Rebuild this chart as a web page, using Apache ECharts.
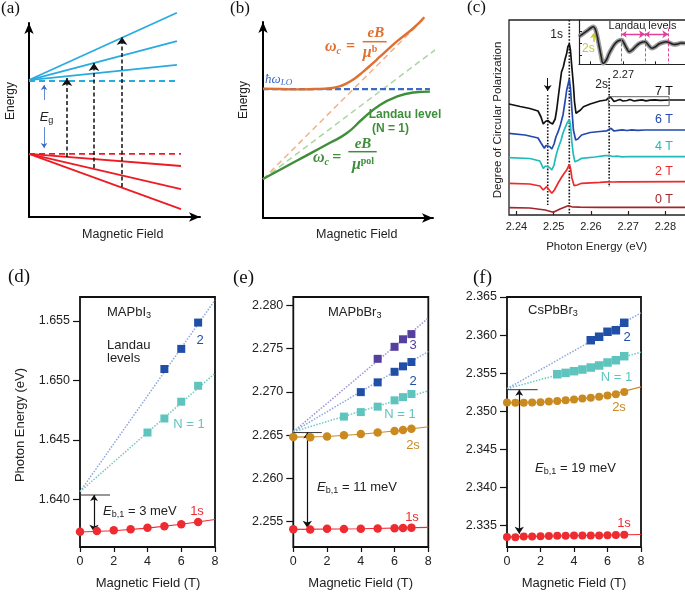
<!DOCTYPE html>
<html><head><meta charset="utf-8">
<script src="https://cdn.jsdelivr.net/npm/echarts@6/dist/echarts.min.js"></script>
<style>html,body{margin:0;padding:0;background:#fff}#c{width:685px;height:592px}</style>
</head><body><div id="c"></div>
<script>
// ---------- Panel (a): schematic band diagram (arbitrary units) ----------
const aBlueBands = [[[0,7.06],[8.65,10.53]],[[0,7.06],[8.65,9.07]],[[0,7.06],[8.65,7.84]]];
const aBlueEdge = [[0,7.01],[8.77,7.01]];
const aRedBands = [[[0,3.25],[8.89,2.63]],[[0,3.25],[8.89,1.44]],[[0,3.25],[8.89,0.41]]];
const aRedEdge = [[0,3.25],[8.89,3.25]];
const aTransitions = [[[2.22,3.09],[2.22,7.16]],[[3.8,2.53],[3.8,7.94]],[[5.44,1.55],[5.44,9.28]]];
const aGapArrows = [[[0.88,6.03],[0.88,6.8]],[[0.88,4.64],[0.88,3.56]]];

// ---------- Panel (b): polaron schematic (arbitrary units) ----------
const bUpper = [[0,6.6],[1,6.58],[2,6.56],[3,6.58],[3.94,6.62],[4.5,6.72],[4.92,6.87],[5.4,7.12],[5.9,7.47],[6.4,7.85],[6.88,8.23],[7.86,9.0],[8.84,9.68],[9.49,10.24]];
const bLower = [[0,1.99],[1.98,2.92],[3.94,3.84],[4.92,4.32],[5.9,5.09],[6.88,5.77],[7.86,6.19],[8.84,6.40],[9.82,6.45]];
const bLO = [[0,6.58],[9.82,6.58]];
const bBare = [[0,1.98],[9.55,10.24]];
const bPol = [[0,1.98],[10.25,8.66]];

// ---------- Panel (c): DCP spectra (eV, a.u.) ----------
const c7T = [[2.2380,11.8],[2.2410,11.55],[2.2436,11.35],[2.2458,11.1],[2.2466,10.5],[2.2472,9.8],[2.2478,10.05],[2.2484,10.15],[2.2490,9.95],[2.2497,9.8],[2.2504,10.3],[2.2508,11.2],[2.2513,12.7],[2.2517,13.87],[2.2521,15.0],[2.2526,15.53],[2.2530,16.2],[2.2535,16.87],[2.2538,17.5],[2.2542,17.8],[2.2545,17.2],[2.2549,15.4],[2.2553,13.7],[2.2556,12.0],[2.2560,10.87],[2.2565,10.8],[2.2572,11.2],[2.2580,11.53],[2.2598,11.8],[2.2624,12.1],[2.2641,12.2],[2.2646,12.35],[2.2651,12.53],[2.2657,12.3],[2.2662,12.05],[2.2670,12.15],[2.2678,12.25],[2.2686,12.1],[2.2697,12.15],[2.2705,12.25],[2.2716,12.1],[2.2726,12.17],[2.2737,12.22],[2.2748,12.12],[2.2759,12.18],[2.2772,12.22],[2.2786,12.17],[2.2812,12.2],[2.2856,12.2]];
const c6T = [[2.2380,8.87],[2.2423,8.7],[2.2458,8.4],[2.2466,7.9],[2.2475,7.37],[2.2479,7.65],[2.2484,7.77],[2.2489,7.55],[2.2495,7.3],[2.2501,7.8],[2.2506,8.5],[2.2512,9.03],[2.2518,9.7],[2.2525,10.7],[2.2530,11.9],[2.2535,13.2],[2.2542,14.3],[2.2545,13.4],[2.2549,11.2],[2.2553,9.2],[2.2559,8.2],[2.2565,8.3],[2.2575,8.7],[2.2598,8.95],[2.2624,9.05],[2.2643,9.12],[2.2654,9.37],[2.2662,9.1],[2.2673,9.17],[2.2684,9.22],[2.2697,9.15],[2.2710,9.22],[2.2726,9.17],[2.2745,9.2],[2.2772,9.2],[2.2856,9.2]];
const c4T = [[2.2380,6.43],[2.2436,6.35],[2.2463,6.1],[2.2472,5.37],[2.2478,5.6],[2.2483,5.7],[2.2489,5.45],[2.2495,5.2],[2.2501,5.7],[2.2506,6.6],[2.2512,7.37],[2.2520,8.2],[2.2525,8.9],[2.2530,9.37],[2.2536,9.9],[2.2542,10.25],[2.2545,9.7],[2.2549,7.9],[2.2553,6.7],[2.2557,6.03],[2.2565,6.15],[2.2575,6.37],[2.2611,6.5],[2.2638,6.63],[2.2649,6.65],[2.2654,6.77],[2.2659,6.55],[2.2670,6.58],[2.2684,6.52],[2.2705,6.55],[2.2732,6.53],[2.2856,6.53]];
const c2T = [[2.2380,3.87],[2.2436,3.8],[2.2463,3.6],[2.2472,3.2],[2.2477,3.4],[2.2481,3.53],[2.2487,3.25],[2.2495,2.87],[2.2502,3.2],[2.2512,3.9],[2.2522,4.53],[2.2528,4.85],[2.2535,5.2],[2.2542,5.77],[2.2545,5.4],[2.2549,4.4],[2.2553,3.87],[2.2555,3.63],[2.2563,3.7],[2.2575,3.87],[2.2624,3.97],[2.2646,4.02],[2.2651,4.1],[2.2657,4.0],[2.2678,4.02],[2.2856,4.03]];
const c0T = [[2.2380,1.43],[2.2436,1.4],[2.2477,1.2],[2.2499,0.97],[2.2517,1.3],[2.2539,1.63],[2.2549,1.52],[2.2570,1.48],[2.2624,1.47],[2.2856,1.47]];
const cGuide1 = [[2.2484,12.7],[2.2484,1.7]];
const cGuide2 = [[2.2542,20.2],[2.2542,0.7]];
const cGuide3 = [[2.2649,14.4],[2.2649,3.5]];
const cArrow = [[[2.2484,14.4],[2.2484,13.1]]];
const cZoomBox = [[2.2647,12.53],[2.2810,12.53],[2.2810,11.63],[2.2647,11.63],[2.2647,12.53]];
const cTicks = [2.24,2.25,2.26,2.27,2.28];
// inset (7 T, zoomed)
const cInset = [[2.2632,6.23],[2.2640,7.07],[2.2646,7.74],[2.2650,8.19],[2.2654,8.49],[2.2657,7.97],[2.2660,6.39],[2.2663,4.13],[2.2666,1.87],[2.2669,0.23],[2.2674,0.97],[2.2678,2.33],[2.2683,3.68],[2.2687,4.58],[2.2692,5.26],[2.2698,5.49],[2.2701,4.81],[2.2706,3.45],[2.2709,2.84],[2.2714,3.23],[2.2720,4.13],[2.2726,4.81],[2.2734,5.10],[2.2738,4.47],[2.2744,3.61],[2.2749,3.91],[2.2755,4.58],[2.2761,4.92],[2.2767,5.10],[2.2772,4.81],[2.2778,4.47],[2.2784,4.58],[2.2789,4.81],[2.2795,4.74]];
const cLandau = [2.26977,2.27335,2.27694];
const cInsetXTicks = [2.265,2.27,2.275];
const cInsetYTicks = [2.1,4.75,7.4];

// ---------- Panel (d): MAPbI3 ----------
const dField = [0,1,2,3,4,5,6,7];
const d1s = [1.63729,1.63735,1.63741,1.63750,1.63762,1.63775,1.63792,1.63811];
const dN1Field = [4,5,6,7];
const dN1 = [1.64563,1.64681,1.64822,1.64956];
const dN2Field = [5,6,7];
const dN2 = [1.65097,1.65266,1.65487];
const d1sFit = [[0,1.63727],[2,1.63738],[4,1.63760],[6,1.63792],[8,1.63832]];
const dN1Fit = [[0,1.64066],[8,1.65061]];
const dN2Fit = [[0,1.64066],[8,1.65676]];
const dLimit = [[0,1.64038],[1.78,1.64038]];
const dGap = [[[0.83,1.64038],[0.83,1.6373]]];
const dTicks = [1.640,1.645,1.650,1.655];

// ---------- Panel (e): MAPbBr3 ----------
const eField = [0,1,2,3,4,5,6,6.5,7];
const e1s = [2.25412,2.25410,2.25418,2.25416,2.25418,2.25421,2.25424,2.25427,2.25431];
const e2s = [2.26480,2.26475,2.26484,2.26498,2.26513,2.26530,2.26549,2.26560,2.26575];
const eN1Field = [3,4,5,6,6.5,7];
const eN1 = [2.26715,2.26767,2.26830,2.26903,2.26940,2.26976];
const eN2Field = [4,5,6,6.5,7];
const eN2 = [2.26998,2.27111,2.27233,2.27296,2.27346];
const eN3Field = [5,6,6.5,7];
const eN3 = [2.27383,2.27522,2.27609,2.27669];
const e1sFit = [[0,2.25411],[4,2.25418],[8,2.25434]];
const e2sFit = [[0,2.26478],[2,2.26484],[4,2.26510],[6,2.26548],[8,2.26598]];
const eN1Fit = [[0,2.2654],[8,2.27013]];
const eN2Fit = [[0,2.2654],[8,2.27468]];
const eN3Fit = [[0,2.2654],[8,2.27854]];
const eLimit = [[0,2.2653],[1.69,2.2653]];
const eGap = [[[0.83,2.2653],[0.83,2.2543]]];
const eTicks = [2.255,2.260,2.265,2.270,2.275,2.280];

// ---------- Panel (f): CsPbBr3 ----------
const fField = [0,0.5,1,1.5,2,2.5,3,3.5,4,4.5,5,5.5,6,6.5,7];
const f1s = [2.33348,2.33344,2.33353,2.33353,2.33357,2.33360,2.33364,2.33364,2.33366,2.33366,2.33367,2.33367,2.33370,2.33374,2.33377];
const f2s = [2.35114,2.35109,2.35109,2.35114,2.35118,2.35127,2.35135,2.35144,2.35153,2.35167,2.35175,2.35188,2.35206,2.35223,2.35253];
const fN1Field = [3,3.5,4,4.5,5,5.5,6,6.5,7];
const fN1 = [2.35485,2.35503,2.35525,2.35547,2.35573,2.35600,2.35639,2.35669,2.35722];
const fN2Field = [5,5.5,6,6.5,7];
const fN2 = [2.35932,2.35978,2.36043,2.36063,2.36161];
const f1sFit = [[0,2.33348],[8,2.3338]];
const f2sFit = [[0,2.35112],[2,2.35118],[4,2.35152],[6,2.35205],[8,2.35319]];
const fN1Fit = [[0,2.35295],[8,2.35775]];
const fN2Fit = [[0,2.35295],[8,2.36292]];
const fLimit = [[0,2.35282],[1.83,2.35282]];
const fGap = [[[0.73,2.35282],[0.73,2.3339]]];
const fTicks = [2.335,2.340,2.345,2.350,2.355,2.360,2.365];

// ---------- colours ----------
const C = {blue:'#29abe2', red:'#ed1c24', orange:'#e0702f', green:'#3f8f3a', lo:'#3b6cc4',
  k:'#111', b6:'#2349b0', teal:'#1fbcbc', r2:'#ee2a2a', r0:'#a4262c', mag:'#e0409a', yel:'#c8c830',
  dot:'#ef2b32', gold:'#c98a20', sq1:'#5ec4bd', sq2:'#1f4fa6', sq3:'#56409e',
  l1:'#6fcac4', l2:'#8fa6e0', l3:'#9d94d6'};
const SANS = 'Liberation Sans', SERIF = 'Liberation Serif';

const series = [];
function line(gi, data, color, width, type, extra) {
  series.push(Object.assign({type:'line', xAxisIndex:gi, yAxisIndex:gi, data, symbol:'none', clip:false, silent:true,
    animation:false, lineStyle:{color, width, type:type||'solid'}, z:2}, extra||{}));
}
function segs(gi, list, color, width, type, sym, size, extra) {
  series.push(Object.assign({type:'lines', coordinateSystem:'cartesian2d', xAxisIndex:gi, yAxisIndex:gi,
    data:list.map(s=>({coords:s})), symbol:sym, symbolSize:size,
    lineStyle:{color, width, type:type||'solid', opacity:1, curveness:0}, silent:true, animation:false, z:3}, extra||{}));
}
function pts(gi, xs, ys, symbol, size, color) {
  series.push({type:'scatter', xAxisIndex:gi, yAxisIndex:gi, data:xs.map((x,i)=>[x,ys[i]]), symbol, symbolSize:size,
    itemStyle:{color, opacity:1}, clip:false, silent:true, animation:false, z:5});
}

// (a)
aBlueBands.forEach(s=>line(0,s,C.blue,1.8));
line(0,aBlueEdge,C.blue,1.8,[6,4]);
aRedBands.forEach(s=>line(0,s,C.red,1.8));
line(0,aRedEdge,C.red,1.8,[6,4]);
segs(0,aTransitions,C.k,1.5,[4,2.5],['none','arrow'],[7,8]);
segs(0,aGapArrows,C.lo,0.8,'solid',['none','arrow'],[4,5]);
// (b)
line(1,bBare,'#f2b08e',1.5,[6,4]);
line(1,bPol,'#a9d6a0',1.5,[6,4]);
line(1,bLO,C.lo,2.2,[6,3]);
line(1,bUpper,C.orange,2.4,'solid',{smooth:true});
line(1,bLower,C.green,2.4,'solid',{smooth:true});
// (c)
line(2,cGuide1,C.k,1.6,'dotted');
line(2,cGuide2,C.k,1.6,'dotted');
line(2,cGuide3,C.k,1.6,'dotted');
segs(2,cArrow,C.k,1,'solid',['none','arrow'],[6,6]);
line(2,c0T,C.r0,1.7);
line(2,c2T,C.r2,1.7);
line(2,c4T,C.teal,1.7);
line(2,c6T,C.b6,1.7);
line(2,c7T,C.k,1.7);
line(2,cZoomBox,'#666',1);
// inset
line(3,cInset,'#9a9a9a',4.5,'solid',{smooth:0.3});
line(3,cInset,'#222',1.6,'solid',{smooth:0.3});
segs(3,cLandau.map(x=>[[x,8.1],[x,0]]),C.mag,1,[3,2],'none',0);
segs(3,[[[cLandau[0],6.77],[cLandau[1],6.77]],[[cLandau[1],6.77],[cLandau[2],6.77]]],C.mag,1.3,'solid',['arrow','arrow'],[5,6]);
segs(3,[[[2.2654,5.1],[2.2654,7.0]]],C.yel,1.5,'solid',['none','arrow'],[5,5]);
// (d)
line(4,dN2Fit,C.l2,1.5,'dotted');
line(4,dN1Fit,C.l1,1.5,'dotted');
line(4,d1sFit,C.dot,1.1);
line(4,dLimit,'#333',1);
segs(4,dGap,C.k,1.2,'solid',['arrow','arrow'],[6,7]);
pts(4,dField,d1s,'circle',8.5,C.dot);
pts(4,dN1Field,dN1,'rect',8,C.sq1);
pts(4,dN2Field,dN2,'rect',8,C.sq2);
// (e)
line(5,eN3Fit,C.l3,1.5,'dotted');
line(5,eN2Fit,C.l2,1.5,'dotted');
line(5,eN1Fit,C.l1,1.5,'dotted');
line(5,e1sFit,C.dot,1.1);
line(5,e2sFit,C.gold,1.1);
line(5,eLimit,'#333',1);
segs(5,eGap,C.k,1.2,'solid',['arrow','arrow'],[6,7]);
pts(5,eField,e1s,'circle',8.5,C.dot);
pts(5,eField,e2s,'circle',8.5,C.gold);
pts(5,eN1Field,eN1,'rect',8,C.sq1);
pts(5,eN2Field,eN2,'rect',8,C.sq2);
pts(5,eN3Field,eN3,'rect',8,C.sq3);
// (f)
line(6,fN2Fit,C.l2,1.5,'dotted');
line(6,fN1Fit,C.l1,1.5,'dotted');
line(6,f1sFit,C.dot,1.1);
line(6,f2sFit,C.gold,1.1);
line(6,fLimit,'#333',1);
segs(6,fGap,C.k,1.2,'solid',['arrow','arrow'],[6,7]);
pts(6,fField,f1s,'circle',8,C.dot);
pts(6,fField,f2s,'circle',8,C.gold);
pts(6,fN1Field,fN1,'rect',8.5,C.sq1);
pts(6,fN2Field,fN2,'rect',8.5,C.sq2);

// ---------- grids & axes ----------
const grids = [
  {left:29, top:23, width:171, height:194},
  {left:263, top:22, width:170, height:196},
  {left:509, top:20, width:177, height:195, show:true, borderColor:'#222', borderWidth:1.3},
  {left:579, top:20, width:107, height:44.3},
  {left:80, top:297, width:135, height:250, show:true, borderColor:'#111', borderWidth:1.8},
  {left:293.3, top:297, width:135, height:250, show:true, borderColor:'#111', borderWidth:1.8},
  {left:507, top:297, width:134, height:250, show:true, borderColor:'#111', borderWidth:1.8}
].map(g=>Object.assign({outerBoundsMode:'none', containLabel:false, backgroundColor:'transparent'}, g));

const off = {show:false};
function arrowAxis(gi){ return {type:'value', gridIndex:gi, min:0, max:10, splitLine:off, axisTick:off, axisLabel:off,
  axisLine:{show:true, onZero:false, symbol:['none','arrow'], symbolSize:[7,11], lineStyle:{color:'#000', width:2}}}; }
const lab = {fontFamily:SANS, fontSize:12.5, color:'#222'};
function fieldAxis(gi){ return {type:'value', gridIndex:gi, min:0, max:8, interval:2, splitLine:off,
  axisLine:{show:false}, axisTick:{show:true, inside:false, length:5, lineStyle:{color:'#111', width:1.2}},
  axisLabel:Object.assign({margin:8}, lab)}; }
function energyAxis(gi, min, max, ticks){ return {type:'value', gridIndex:gi, min, max, splitLine:off, axisLine:{show:false},
  axisTick:{show:true, inside:false, length:7, customValues:ticks, lineStyle:{color:'#111', width:1.2}},
  axisLabel:Object.assign({margin:10, customValues:ticks, formatter:v=>v.toFixed(3)}, lab)}; }

const xAxis = [
  arrowAxis(0), arrowAxis(1),
  {type:'value', gridIndex:2, min:2.238, max:2.28554, splitLine:off, axisLine:{show:false},
    axisTick:{show:true, inside:true, length:4, customValues:cTicks, lineStyle:{color:'#222', width:1.2}},
    axisLabel:{customValues:cTicks, formatter:v=>v.toFixed(2), margin:6, fontFamily:SANS, fontSize:11, color:'#222'}},
  {type:'value', gridIndex:3, min:2.2632, max:2.27966, splitLine:off, axisLabel:off,
    axisLine:{show:true, onZero:false, lineStyle:{color:'#222', width:1.2}},
    axisTick:{show:true, inside:true, length:3, customValues:cInsetXTicks, lineStyle:{color:'#222'}}},
  fieldAxis(4), fieldAxis(5), fieldAxis(6)
];
const yAxis = [
  arrowAxis(0), arrowAxis(1),
  {type:'value', gridIndex:2, min:0.7, max:20.2, splitLine:off, axisLine:off, axisTick:off, axisLabel:off},
  {type:'value', gridIndex:3, min:0, max:10, splitLine:off, axisLabel:off,
    axisLine:{show:true, onZero:false, lineStyle:{color:'#222', width:1.2}},
    axisTick:{show:true, inside:true, length:3, customValues:cInsetYTicks, lineStyle:{color:'#222'}}},
  energyAxis(4, 1.63601, 1.65702, dTicks),
  energyAxis(5, 2.25207, 2.28098, eTicks),
  energyAxis(6, 2.33215, 2.365, fTicks)
];

// ---------- text annotations ----------
function txt(x, y, text, o) {
  o = o || {};
  return {type:'text', x, y, rotation:o.rot||0, z:100, silent:true, style:{text, fill:o.color||'#222',
    fontSize:o.size||13, fontFamily:o.family||SANS, fontWeight:o.weight||'normal', fontStyle:o.style||'normal',
    align:o.align||'center', verticalAlign:'middle', rich:o.rich}};
}
function subRich(color, size, fam, italicMain) {
  return {
    i:{fontSize:size, fontFamily:fam||SANS, fontStyle:'italic', fill:color, lineHeight:size+3},
    n:{fontSize:size, fontFamily:fam||SANS, fill:color, lineHeight:size+3},
    s:{fontSize:size*0.7, fontFamily:fam||SANS, fill:color, verticalAlign:'bottom', lineHeight:7, fontStyle:italicMain?'italic':'normal'}
  };
}
function formulaRich(color) {
  return {
    w:{fontSize:16, fontFamily:SERIF, fontWeight:'bold', fontStyle:'italic', fill:color, lineHeight:18},
    s:{fontSize:10, fontFamily:SERIF, fontWeight:'bold', fontStyle:'italic', fill:color, verticalAlign:'bottom', lineHeight:8},
    p:{fontSize:10, fontFamily:SERIF, fontWeight:'bold', fill:color, verticalAlign:'top', lineHeight:8}
  };
}
const R = Math.PI/2;
const graphic = [
  // (a)
  txt(1, 9, '(a)', {family:SERIF, size:17, align:'left', color:'#111'}),
  txt(11, 101, 'Energy', {rot:R, size:12}),
  txt(122.7, 234.5, 'Magnetic Field', {size:12.5}),
  txt(46.5, 117, '{i|E}{s|g}', {rich:subRich('#222',13)}),
  // (b)
  txt(230, 9, '(b)', {family:SERIF, size:17, align:'left', color:'#111'}),
  txt(244, 100, 'Energy', {rot:R, size:12}),
  txt(356.7, 235, 'Magnetic Field', {size:12.5}),
  txt(325, 47, '{w|ω}{s|c}', {align:'left', rich:formulaRich(C.orange)}),
  txt(350.5, 47, '=', {family:SERIF, size:16, weight:'bold', color:C.orange}),
  txt(375.8, 33.5, 'eB', {family:SERIF, size:15, weight:'bold', style:'italic', color:C.orange}),
  {type:'line', z:100, silent:true, shape:{x1:362.7, y1:41.7, x2:386.7, y2:41.7}, style:{stroke:C.orange, lineWidth:1.5}},
  txt(370, 53, '{w|μ}{p|b}', {rich:formulaRich(C.orange)}),
  txt(265, 80, '{w|ħω}{s|LO}', {align:'left', rich:{
    w:{fontSize:13, fontFamily:SERIF, fontStyle:'italic', fill:C.lo, lineHeight:15},
    s:{fontSize:9, fontFamily:SERIF, fontStyle:'italic', fill:C.lo, verticalAlign:'bottom', lineHeight:6}}}),
  txt(405, 115, 'Landau level', {size:12, weight:'bold', color:C.green}),
  txt(390.5, 128.5, '(N = 1)', {size:12, weight:'bold', color:C.green}),
  txt(313, 158.3, '{w|ω}{s|c}', {align:'left', rich:formulaRich(C.green)}),
  txt(336.7, 158.3, '=', {family:SERIF, size:16, weight:'bold', color:C.green}),
  txt(363, 144.5, 'eB', {family:SERIF, size:15, weight:'bold', style:'italic', color:C.green}),
  {type:'line', z:100, silent:true, shape:{x1:348.3, y1:151.7, x2:376.7, y2:151.7}, style:{stroke:C.green, lineWidth:1.5}},
  txt(363, 165, '{w|μ}{p|pol}', {rich:formulaRich(C.green)}),
  // (c)
  txt(467, 8, '(c)', {family:SERIF, size:17, align:'left', color:'#111'}),
  txt(498, 120, 'Degree of Circular Polarization', {rot:R, size:11.5}),
  txt(596.7, 247, 'Photon Energy (eV)', {size:11.5}),
  txt(556.7, 35, '1s', {size:12}),
  txt(601.7, 85, '2s', {size:12}),
  txt(623.3, 75, '2.27', {size:11}),
  txt(673, 92, '7 T', {size:12.5, align:'right', color:C.k}),
  txt(673, 120, '6 T', {size:12.5, align:'right', color:C.b6}),
  txt(673, 147, '4 T', {size:12.5, align:'right', color:C.teal}),
  txt(673, 172, '2 T', {size:12.5, align:'right', color:C.r2}),
  txt(673, 200, '0 T', {size:12.5, align:'right', color:C.r0}),
  txt(642.5, 25.7, 'Landau levels', {size:11}),
  txt(588.3, 48.5, '2s', {size:12, color:C.yel}),
  // (d)
  txt(8, 277, '(d)', {family:SERIF, size:19, align:'left', color:'#111'}),
  txt(20, 425, 'Photon Energy (eV)', {rot:R, size:13}),
  txt(148, 583, 'Magnetic Field (T)', {size:13}),
  txt(107, 312, '{n|MAPbI}{s|3}', {align:'left', rich:subRich('#222',13)}),
  txt(107, 345, 'Landau', {align:'left'}),
  txt(107, 358.5, 'levels', {align:'left'}),
  txt(200, 340.5, '2', {color:C.sq2}),
  txt(189, 424, 'N = 1', {color:C.sq1}),
  txt(103, 511, '{i|E}{s|b,1}{n| = 3 meV}', {align:'left', rich:subRich('#222',13)}),
  txt(197, 511, '1s', {color:C.dot}),
  // (e)
  txt(233, 278, '(e)', {family:SERIF, size:19, align:'left', color:'#111'}),
  txt(360.7, 583, 'Magnetic Field (T)', {size:13}),
  txt(328, 312, '{n|MAPbBr}{s|3}', {align:'left', rich:subRich('#222',13)}),
  txt(413, 345, '3', {color:C.sq3}),
  txt(413, 381, '2', {color:C.sq2}),
  txt(400, 414, 'N = 1', {color:C.sq1}),
  txt(413, 445, '2s', {color:C.gold}),
  txt(317, 487, '{i|E}{s|b,1}{n| = 11 meV}', {align:'left', rich:subRich('#222',13)}),
  txt(412, 517, '1s', {color:C.dot}),
  // (f)
  txt(473, 278, '(f)', {family:SERIF, size:19, align:'left', color:'#111'}),
  txt(574, 583, 'Magnetic Field (T)', {size:13}),
  txt(528, 310, '{n|CsPbBr}{s|3}', {align:'left', rich:subRich('#222',13)}),
  txt(627, 337, '2', {color:C.sq2}),
  txt(616.5, 377, 'N = 1', {color:C.sq1}),
  txt(619, 407.5, '2s', {color:C.gold}),
  txt(535, 468, '{i|E}{s|b,1}{n| = 19 meV}', {align:'left', rich:subRich('#222',13)}),
  txt(624, 523, '1s', {color:C.dot})
];

const chart = echarts.init(document.getElementById('c'), null, {renderer:'canvas', width:685, height:592});
chart.setOption({
  animation:false,
  backgroundColor:'#fff',
  textStyle:{fontFamily:SANS},
  grid:grids, xAxis, yAxis, series, graphic
});
</script></body></html>
